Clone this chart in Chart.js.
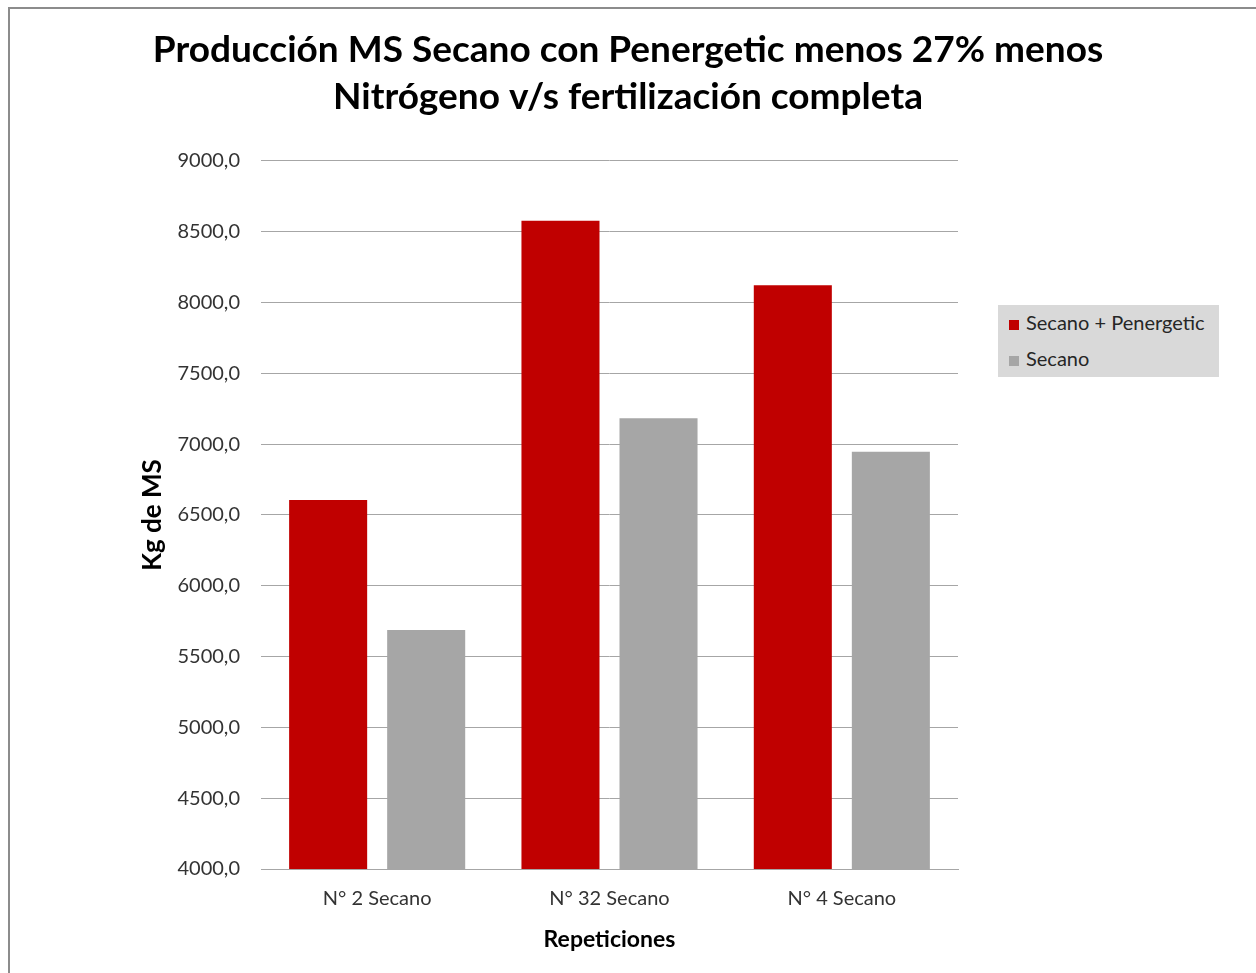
<!DOCTYPE html>
<html>
<head>
<meta charset="utf-8">
<script src="https://cdn.jsdelivr.net/npm/chart.js@4"></script>
<style>
  html, body { margin: 0; padding: 0; background: #fff; }
  #wrap { position: relative; width: 1256px; height: 973px; overflow: hidden; }
  #frame { position: absolute; left: 8px; top: 7px; width: 1300px; height: 1000px; border-left: 2px solid #8c8c8c; border-top: 2px solid #8c8c8c; }
  #chart { position: absolute; left: 0; top: 0; }
  #legend { position: absolute; left: 998px; top: 305px; width: 221px; height: 72px; background: #d9d9d9;
            font-family: Lato, "Open Sans", sans-serif; font-size: 20px; color: #262626; }
  .item { position: absolute; left: 11px; height: 20px; line-height: 20px; }
  .swatch { display: inline-block; width: 10px; height: 10px; margin-right: 7px; vertical-align: 0px; }
</style>
</head>
<body>
<div id="wrap">
  <div id="frame"></div>
  <canvas id="chart" width="1256" height="973"></canvas>
  <div id="legend"></div>
</div>
<script>
const categories = ['N° 2 Secano', 'N° 32 Secano', 'N° 4 Secano'];
const seriesNames = ['Secano + Penergetic', 'Secano'];
const penergetic = [6606, 8578, 8122];
const secano = [5688, 7183, 6947];
const colors = ['#c00000', '#a6a6a6'];
const titleLines = ['Producción MS Secano con Penergetic menos 27% menos', 'Nitrógeno v/s fertilización completa'];

const font = 'Lato, "Open Sans", sans-serif';

// legend as html, like the office chart box
var lg = document.getElementById('legend');
var html = '';
seriesNames.forEach(function(n, i) {
  html += '<div class="item" style="top:' + (7 + i * 36) + 'px"><span class="swatch" style="background:' + colors[i] + '"></span>' + n + '</div>';
});
lg.innerHTML = html;

new Chart(document.getElementById('chart'), {
  type: 'bar',
  data: {
    labels: categories,
    datasets: [
      { label: seriesNames[0], data: penergetic, backgroundColor: colors[0] },
      { label: seriesNames[1], data: secano, backgroundColor: colors[1] }
    ]
  },
  options: {
    responsive: false, animation: false,
    categoryPercentage: 0.844, barPercentage: 0.796,
    layout: { padding: { left: 0, right: 0, top: 14, bottom: 10 } },
    plugins: {
      legend: { display: false },
      tooltip: { enabled: false },
      title: {
        display: true, text: titleLines, color: '#000',
        font: { family: font, size: 37, weight: 'bold', lineHeight: 1.27 },
        padding: { top: 13, bottom: 40 }
      }
    },
    scales: {
      x: {
        grid: { display: false, drawTicks: false },
        border: { color: '#a6a6a6', width: 1 },
        ticks: { color: '#333', font: { family: font, size: 20 }, padding: 18 },
        title: { display: true, text: 'Repeticiones', color: '#000', font: { family: font, size: 23, weight: 'bold' }, padding: { top: 12, bottom: 10 } },
        afterFit: function(s) { s.height = 94; }
      },
      y: {
        min: 4000, max: 9000,
        grid: { color: '#a6a6a6', drawTicks: false },
        border: { display: false },
        ticks: {
          stepSize: 500, color: '#333', padding: 21, font: { family: font, size: 20 },
          callback: function(v) { return v.toFixed(1).replace('.', ','); }
        },
        title: { display: true, text: 'Kg de MS', color: '#000', font: { family: font, size: 26, weight: 'bold' }, padding: { top: 137, bottom: 0 } },
        afterFit: function(s) { s.width = 261; }
      },
      // empty right-hand axis that keeps room for the legend box
      side: {
        position: 'right', min: 4000, max: 9000,
        grid: { display: false, drawTicks: false },
        border: { display: false },
        ticks: { display: false },
        afterFit: function(s) { s.width = 298; }
      }
    }
  }
});
</script>
</body>
</html>
